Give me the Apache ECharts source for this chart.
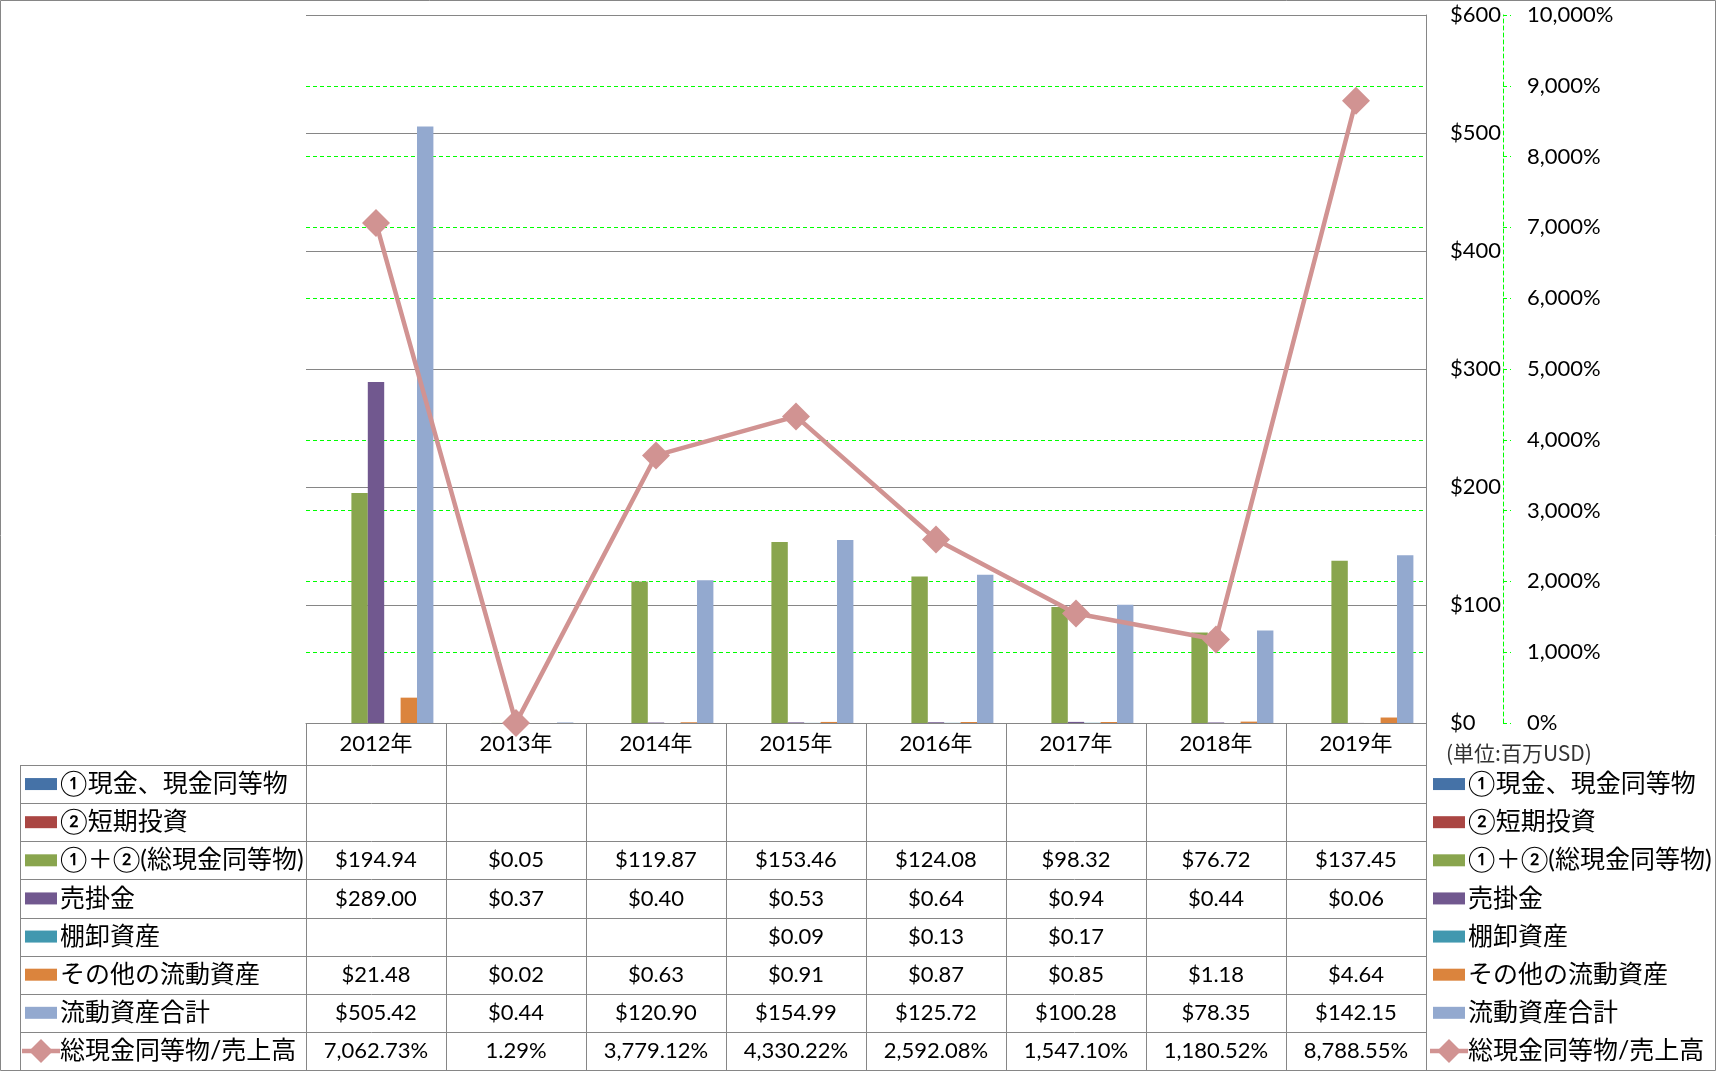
<!DOCTYPE html>
<html><head><meta charset="utf-8">
<script src="https://cdn.jsdelivr.net/npm/echarts@6/dist/echarts.min.js"></script>
<style>html,body{margin:0;padding:0;background:#fff}#c{width:1716px;height:1071px}</style>
</head><body><div id="c"></div>
<script>
// ---- data ----
const categories = ['2012年','2013年','2014年','2015年','2016年','2017年','2018年','2019年'];
const cashEq       = [null,null,null,null,null,null,null,null];
const shortInv     = [null,null,null,null,null,null,null,null];
const totalCash    = [194.94,0.05,119.87,153.46,124.08,98.32,76.72,137.45];
const receivables  = [289.00,0.37,0.40,0.53,0.64,0.94,0.44,0.06];
const inventory    = [null,null,null,0.09,0.13,0.17,null,null];
const otherCurrent = [21.48,0.02,0.63,0.91,0.87,0.85,1.18,4.64];
const totalCurrent = [505.42,0.44,120.90,154.99,125.72,100.28,78.35,142.15];
const cashToSales  = [7062.73,1.29,3779.12,4330.22,2592.08,1547.10,1180.52,8788.55];
const barNames = ['①現金、現金同等物','②短期投資','①＋②(総現金同等物)','売掛金','棚卸資産','その他の流動資産','流動資産合計'];
const lineName = '総現金同等物/売上高';
const unitText = '(単位:百万USD)';

// ---- styles ----
const FONT = 'Lato, "Noto Sans CJK JP", sans-serif';
const GRAY = '#868686';
const barColors = ['#4572A7','#AA4643','#89A54E','#71588F','#4198AF','#DB843D','#93A9CF'];
const lineColor = '#D19392';
const barData = [cashEq, shortInv, totalCash, receivables, inventory, otherCurrent, totalCurrent];

const chart = echarts.init(document.getElementById('c'), null, {renderer:'canvas'});
const option = {
  animation:false,
  backgroundColor:'#fff',
  textStyle:{fontFamily:FONT},
  grid:{left:306, right:290, top:15, bottom:348, containLabel:false, outerBoundsMode:'none'},
  xAxis:{type:'category', data:categories, z:1,
    axisLine:{show:true, lineStyle:{color:GRAY}},
    axisTick:{show:true, length:347, interval:0, lineStyle:{color:GRAY}},
    axisLabel:{color:'#000', fontSize:22, margin:10, interval:0, fontFamily:FONT},
    splitLine:{show:false}},
  yAxis:[
    {type:'value', position:'right', min:0, max:600, interval:100, z:1,
      axisLine:{show:true, lineStyle:{color:GRAY}}, axisTick:{show:false},
      axisLabel:{color:'#000', fontSize:22, margin:24, fontFamily:FONT, formatter:v=>'$'+v},
      splitLine:{show:true, lineStyle:{color:GRAY, width:1}}},
    {type:'value', position:'right', offset:77, min:0, max:10000, interval:1000, z:0,
      axisLine:{show:true, lineStyle:{color:'#00FF00', type:[4,3]}},
      axisTick:{show:true, length:8, lineStyle:{color:'#00FF00', type:[4,3]}},
      axisLabel:{color:'#000', fontSize:22, margin:24, fontFamily:FONT, formatter:v=>v.toLocaleString('en-US')+'%'},
      splitLine:{show:true, lineStyle:{color:'#00FF00', type:[4,3], width:1}}}
  ],
  series: barData.map((d,i)=>({name:barNames[i], type:'bar', yAxisIndex:0, data:d,
      itemStyle:{color:barColors[i]}, barGap:'0%', barCategoryGap:'18%'}))
    .concat([{name:lineName, type:'line', yAxisIndex:1, data:cashToSales,
      symbol:'diamond', symbolSize:28, lineStyle:{color:lineColor, width:4.5},
      itemStyle:{color:lineColor}, z:5}])
};
chart.setOption(option);

// ---- data table & legend (positions derived from the axes) ----
const centers = categories.map((_,i)=>chart.convertToPixel({xAxisIndex:0}, i));
const band = centers[1]-centers[0];
const tableRight = centers[centers.length-1] + band/2;
const axisY = chart.convertToPixel({yAxisIndex:0}, 0);
const rowTop0 = axisY + 42;
const rowH = 38.125;
const tableLeft = 20;
const fmt2 = v => v.toLocaleString('en-US',{minimumFractionDigits:2, maximumFractionDigits:2});
const fmtUSD = v => v==null ? '' : '$'+fmt2(v);
const fmtPct = v => v==null ? '' : fmt2(v)+'%';

const g = [];
g.push({type:'rect', silent:true, shape:{x:0.5,y:0.5,width:1715,height:1070}, style:{fill:'none', stroke:GRAY, lineWidth:1}});
for (let i=0;i<=8;i++){
  const y = Math.round(rowTop0 + i*rowH)+0.5;
  g.push({type:'line', silent:true, shape:{x1:tableLeft,y1:y,x2:tableRight,y2:y}, style:{stroke:GRAY, lineWidth:1}});
}
g.push({type:'line', silent:true, shape:{x1:tableLeft+0.5,y1:rowTop0,x2:tableLeft+0.5,y2:rowTop0+8*rowH}, style:{stroke:GRAY, lineWidth:1}});

function legendIcon(x, cy, idx){
  if (idx < 7) {
    g.push({type:'rect', silent:true, shape:{x:x, y:cy-6, width:32, height:12}, style:{fill:barColors[idx]}});
  } else {
    g.push({type:'line', silent:true, shape:{x1:x-3,y1:cy,x2:x+35,y2:cy}, style:{stroke:lineColor, lineWidth:4.5}});
    const cx = x+16, r = 12;
    g.push({type:'polygon', silent:true, shape:{points:[[cx,cy-r],[cx+r,cy],[cx,cy+r],[cx-r,cy]]}, style:{fill:lineColor}});
  }
}
const rowNames = barNames.concat([lineName]);
const rowData = barData.concat([cashToSales]);
rowNames.forEach((name, r)=>{
  const cy = rowTop0 + (r+0.5)*rowH;
  legendIcon(25, cy, r);
  g.push({type:'text', silent:true, x:60, y:cy, style:{text:name, fontSize:25, fontFamily:FONT, fill:'#000', align:'left', verticalAlign:'middle'}});
  legendIcon(tableRight+7, cy, r);
  g.push({type:'text', silent:true, x:tableRight+42, y:cy, style:{text:name, fontSize:25, fontFamily:FONT, fill:'#000', align:'left', verticalAlign:'middle'}});
  rowData[r].forEach((v,j)=>{
    const t = r<7 ? fmtUSD(v) : fmtPct(v);
    if (!t) return;
    g.push({type:'text', silent:true, x:centers[j], y:cy, style:{text:t, fontSize:22, fontFamily:FONT, fill:'#000', align:'center', verticalAlign:'middle'}});
  });
});
g.push({type:'text', silent:true, x:tableRight+20, y:axisY+30, style:{text:unitText, fontSize:21, fontFamily:'"Noto Sans CJK JP", sans-serif', fill:'#333', align:'left', verticalAlign:'middle'}});
chart.setOption({graphic:g});
</script>
</body></html>
